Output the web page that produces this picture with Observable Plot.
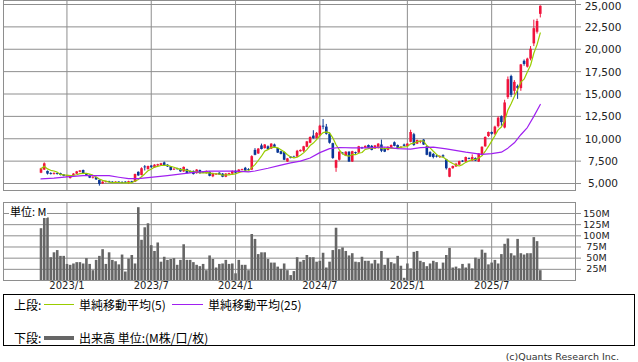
<!DOCTYPE html>
<html><head><meta charset="utf-8">
<script src="https://cdn.jsdelivr.net/npm/d3@7"></script>
<script src="https://cdn.jsdelivr.net/npm/@observablehq/plot@0.6"></script>
<style>
body{margin:0;background:#fff;}
#wrap{position:relative;width:638px;height:362px;overflow:hidden;background:#fff;font-family:"DejaVu Sans",sans-serif;}
#price{position:absolute;left:0;top:0;}
#vol{position:absolute;left:0;top:195px;}
.unit{position:absolute;left:9px;top:205px;height:13px;background:#fff;font:11px "Noto Sans CJK JP";line-height:13px;padding:0 1px;color:#000;}
#legend{position:absolute;left:3px;top:294px;width:632px;height:52px;border:1px solid #000;box-sizing:border-box;}
.lg{position:absolute;font:12px "Noto Sans CJK JP";line-height:14px;color:#000;white-space:nowrap;}
.ln{position:absolute;}
#cap{position:absolute;right:19px;top:351px;font:9.5px "DejaVu Sans";color:#333;white-space:nowrap;}
</style></head>
<body><div id="wrap">
<div id="price"></div>
<div id="vol"></div>
<div class="unit">単位: M</div>
<div id="legend"></div>
<div id="cap">(c)Quants Research Inc.</div>
</div>
<script>
// ---- data (weekly candles, 2022-11-07 .. 2025-10-20) ----
const opens = [6150,6500,6350,6100,6000,6100,6100,5950,5750,5550,5900,6050,6250,6450,6050,5900,5600,5650,5350,4950,5100,5200,5150,5050,5150,5100,5150,5050,5200,5150,
6250,5900,6850,6550,6950,6750,6950,7000,7300,7050,6850,6500,6650,6600,6300,6550,6350,6350,6100,6450,6250,6100,6250,5750,5950,6150,6050,5700,6000,6050,
6350,6150,6450,6700,6550,6500,8700,8300,9200,8900,9100,8850,9300,8900,8550,8450,7400,7950,7950,7950,8550,8600,9050,9500,10300,10000,10300,11400,11300,10500,
9450,6700,7600,8400,8050,8500,7400,8450,8400,9000,8950,9250,9150,8850,8900,9300,8850,8700,8900,9550,9250,8950,9300,9150,9600,10450,9400,9600,9850,9100,
8450,8250,8050,7900,8100,7650,5700,6650,6850,7050,7500,7400,7800,7500,7800,7400,8150,9100,10250,10700,10500,11350,12450,11200,14600,16950,15300,15850,15600,18650,
18000,18900,20600,21900,23900];
const highs = [6700,7300,6400,6200,6200,6150,6150,6000,5900,5900,6100,6350,6450,6500,6100,5950,5750,5700,5400,5200,5250,5250,5200,5200,5200,5200,5200,5250,5250,6050,
6300,6750,7000,6950,7000,7100,7150,7250,7400,7100,6900,6650,6700,6650,6850,6600,6400,6400,6550,6500,6300,6400,6300,6150,6100,6200,6100,6100,6150,6400,
6450,6550,6600,6800,6650,8100,8900,8900,9400,9350,9200,9450,9400,8950,8600,8500,7800,8000,8050,8700,8750,9150,9700,10200,10900,10700,11500,12150,11600,10650,
9500,7600,8550,8450,8550,8550,8600,8500,9150,9050,9200,9300,9250,9250,9450,9850,8950,9100,9300,9650,9300,9100,9400,9450,10950,10600,9850,9750,9900,9150,
8550,8350,8150,8100,8200,7700,6700,6950,7250,7500,7550,7950,7850,8200,7850,8350,9100,10200,10750,10750,11400,12450,12550,14300,16900,17100,16500,16000,18300,18800,
19000,20300,23250,23350,24850];
const lows = [6100,6450,5950,5950,5950,5950,5850,5750,5700,5500,5850,6000,6200,6000,5850,5550,5500,5350,4700,4900,5050,5100,5050,5000,5000,5000,5000,4900,5050,5100,
5800,5850,6400,6500,6650,6700,6900,6950,6950,6800,6400,6450,6500,6250,6250,6050,6150,5950,6050,6050,6100,6050,5750,5650,5900,5900,5650,5650,5950,6000,
6100,6100,6400,6350,6400,6450,8100,8250,8750,8850,8700,8800,9000,8350,8200,7550,7350,7750,7850,7900,8500,8450,9000,9450,9950,9950,10200,11000,10400,9400,
7700,6250,7500,8200,8000,7350,7350,8250,8350,8800,8900,8850,8650,8800,8850,8450,8450,8650,8850,9100,8800,8900,9100,9050,9550,9150,9350,9450,9250,8100,
7900,7750,7850,7800,7850,6500,5650,6600,6800,7000,7350,7350,7650,7450,7450,7350,8100,9050,10150,10400,10350,11200,11400,11100,14400,14600,14900,14400,15300,18100,
17900,18700,20300,21700,23500];
const closes = [6640,7200,6050,6000,6100,6000,5900,5800,5850,5880,6050,6300,6400,6050,5900,5600,5700,5400,4900,5150,5200,5100,5050,5150,5050,5000,5050,5200,5100,6000,
5850,6650,6750,6900,6800,7050,7100,7200,7000,6850,6450,6600,6550,6300,6800,6100,6200,6000,6500,6100,6150,6350,5800,6100,6050,5950,5700,6050,6100,6350,
6150,6500,6550,6400,6450,8000,8150,8850,8800,9300,8800,9400,9050,8400,8250,7600,7750,7800,7900,8600,8700,9100,9650,10150,10000,10600,11400,11300,10500,9500,
7800,7550,8500,8300,8500,7400,8550,8350,9100,8900,9150,8900,8700,9200,9400,8600,8500,9050,9250,9150,8850,9050,9150,9400,10700,9250,9800,9700,9300,8150,
7950,7900,7950,8000,7950,6650,6650,6900,7150,7450,7400,7900,7700,7900,7500,8300,9050,10150,10700,10500,11300,12300,11800,14000,16600,14850,16300,15600,18250,18300,
18900,20000,22300,23100,24800];
// volume, millions of shares
const volumes = [116,149,140,51,62,67,54,54,36,34,37,40,40,37,49,36,22,45,54,69,36,62,45,42,35,57,19,48,56,37,
163,90,118,127,78,65,84,41,52,45,47,49,34,45,80,45,45,40,34,31,36,22,55,47,28,36,37,45,36,37,
15,45,34,34,22,103,92,58,62,62,47,39,39,30,25,37,22,11,20,51,41,45,56,51,51,41,43,61,28,41,
67,117,69,73,65,55,60,41,40,52,43,43,37,45,37,65,34,49,40,37,54,32,5,37,26,63,65,43,40,31,
37,43,40,25,39,56,72,28,30,26,36,28,37,26,50,47,68,61,35,39,45,37,58,81,93,60,55,92,60,57,
60,60,96,87,22];
// 25-week moving average at these week numbers
const ma25Week = [0,4,8,13,21,24,27,30,33,39,44,48,52,60,64,66,70,74,77,80,83,86,89,92,96,100,106,110,114,117,121,125,131,136,139,142,144,146,148,150,152,154];
const ma25Val  = [5520,5600,5750,5880,5880,5700,5540,5540,5650,5880,6100,6280,6380,6380,6300,6400,6700,7050,7300,7500,7850,8450,8900,9020,8980,8980,9080,8900,8850,9000,9060,8870,8500,8260,8330,8500,8950,9550,10450,11250,12500,13830];
const priceTicks = [5000,7500,10000,12500,15000,17500,20000,22500,25000];
const volTicks = [25,50,75,100,125,150];
const monthTicks = ["2023-01-02","2023-07-03","2024-01-01","2024-07-01","2025-01-06","2025-07-07"];
const monthLabels = ["2023/1","2023/7","2024/1","2024/7","2025/1","2025/7"];

// ---- build tables ----
const dates = d3.utcMonday.range(new Date(Date.UTC(2022,10,7)), new Date(Date.UTC(2025,9,21)));
const n = Math.min(dates.length, closes.length);
const rows = d3.range(n).map(i => ({date: dates[i], open: opens[i], high: highs[i], low: lows[i], close: closes[i], volume: volumes[i]}));
const ma25 = ma25Week.map((w, j) => ({date: dates[w], value: ma25Val[j]}));
const mt = monthTicks.map(s => new Date(s + "T00:00:00Z"));
const xDomain = [new Date(Date.UTC(2022,7,18)), new Date(Date.UTC(2026,0,4))];
const UP = "#f0143c", DOWN = "#0a3796", GRID = "#8e8e8e";
const col = d => d.close >= d.open ? UP : DOWN;
const fmt = d3.format(",");
const topTick = priceTicks[priceTicks.length - 1];

const price = Plot.plot({
  width: 638, height: 192, marginLeft: 3, marginRight: 63, marginTop: 0, marginBottom: 2,
  style: {fontFamily: "DejaVu Sans", background: "transparent", overflow: "visible"},
  x: {type: "utc", domain: xDomain, axis: null},
  y: {domain: [4218, 25447], axis: null},
  color: {type: "identity"},
  marks: [
    Plot.ruleY(priceTicks, {stroke: GRID}),
    Plot.ruleX(mt, {stroke: GRID}),
    Plot.frame({stroke: GRID}),
    Plot.axisY({anchor: "right", ticks: priceTicks, tickSize: 5, tickFormat: () => "", stroke: GRID, label: null}),
    Plot.text(priceTicks.filter(d => d !== topTick), {y: d => d, frameAnchor: "right", dx: 27.5, dy: 0.5, text: d => fmt(d), textAnchor: "middle", fontSize: 10.5, fill: "#222"}),
    Plot.text([topTick], {y: d => d, frameAnchor: "right", dx: 27.5, dy: 2.5, text: d => fmt(d), textAnchor: "middle", fontSize: 10.5, fill: "#222"}),
    Plot.ruleX(rows, {x: "date", y1: "low", y2: "high", stroke: col, strokeWidth: 1}),
    Plot.ruleX(rows, {x: "date", y1: "open", y2: "close", stroke: col, strokeWidth: 2.6}),
    Plot.lineY(rows, Plot.windowY({k: 5, anchor: "end", reduce: "mean"}, {x: "date", y: "close", stroke: "#99cc00", strokeWidth: 1.2})),
    Plot.line(ma25, {x: "date", y: "value", stroke: "#a020f0", strokeWidth: 1.2})
  ]
});
document.getElementById("price").appendChild(price);

const vol = Plot.plot({
  width: 638, height: 100, marginLeft: 3, marginRight: 63, marginTop: 7, marginBottom: 15,
  style: {fontFamily: "DejaVu Sans", background: "transparent", overflow: "visible"},
  x: {type: "utc", domain: xDomain, axis: null},
  y: {domain: [0, 174.6], axis: null},
  marks: [
    Plot.ruleY(volTicks, {stroke: GRID}),
    Plot.ruleX(mt, {stroke: GRID}),
    Plot.ruleX(rows, {x: "date", y1: 0, y2: "volume", stroke: "#666", strokeWidth: 2.6}),
    Plot.frame({stroke: GRID}),
    Plot.axisY({anchor: "right", ticks: volTicks, tickSize: 5, tickFormat: () => "", stroke: GRID, label: null}),
    Plot.text(volTicks, {y: d => d, frameAnchor: "right", dx: 21, text: d => d + "M", textAnchor: "middle", fontSize: 9.5, fill: "#222"}),
    Plot.text(mt, {x: d => d, frameAnchor: "bottom", dy: 8, text: (d, i) => monthLabels[i], textAnchor: "middle", fontSize: 10, fill: "#222"})
  ]
});
document.getElementById("vol").appendChild(vol);

// ---- legend ----
const lg = document.getElementById("legend");
const items = [
  {t: "上段:", x: 10, y: 3},
  {t: "単純移動平均(5)", x: 75, y: 3},
  {t: "単純移動平均(25)", x: 204, y: 3},
  {t: "下段:", x: 10, y: 36},
  {t: "出来高 単位:(M株/口/枚)", x: 75, y: 36}
];
items.forEach(it => { const d = document.createElement("div"); d.className = "lg"; d.textContent = it.t; d.style.left = it.x + "px"; d.style.top = it.y + "px"; lg.appendChild(d); });
const lines = [
  {x: 40, w: 30, y: 9, h: 1, c: "#99cc00"},
  {x: 168, w: 31, y: 9, h: 1, c: "#a020f0"},
  {x: 40, w: 30, y: 41, h: 4, c: "#666"}
];
lines.forEach(l => { const d = document.createElement("div"); d.className = "ln"; Object.assign(d.style, {left: l.x + "px", width: l.w + "px", top: l.y + "px", height: l.h + "px", background: l.c}); lg.appendChild(d); });
</script>
</body></html>
